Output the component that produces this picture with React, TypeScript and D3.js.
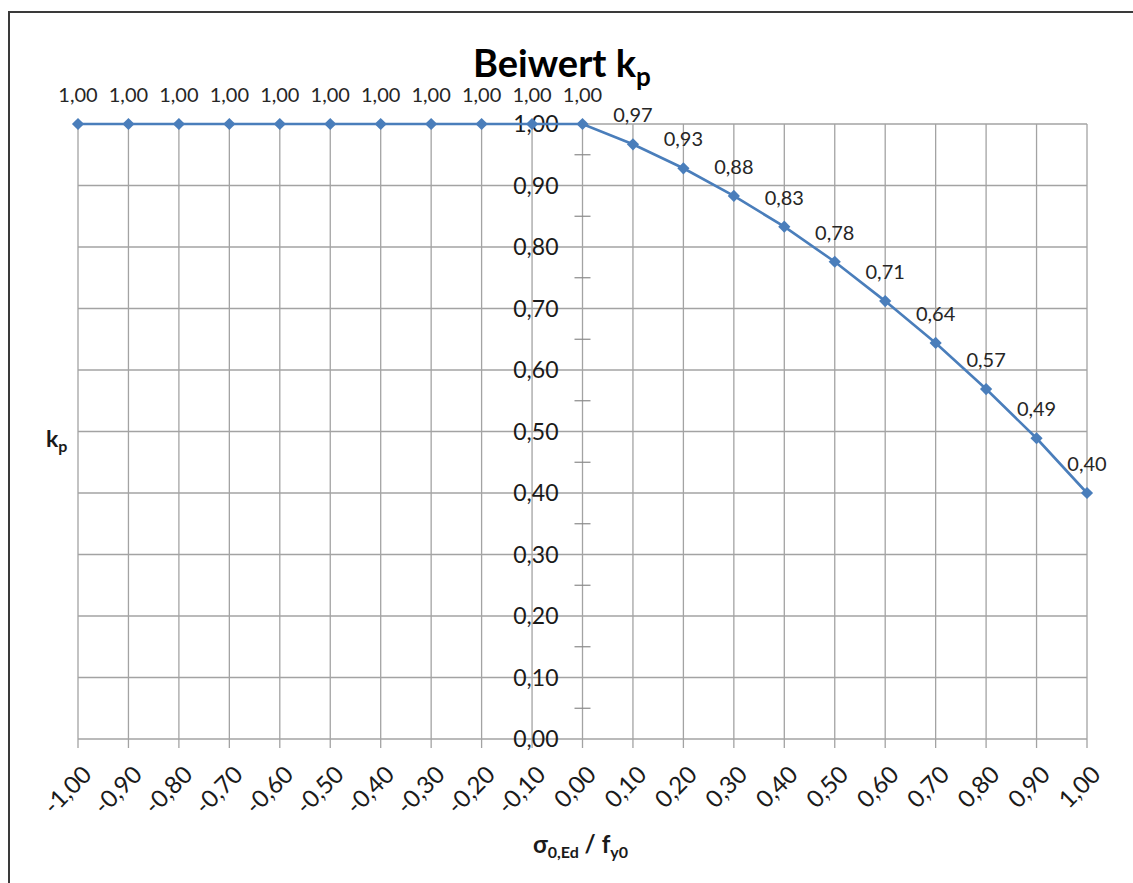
import React from "react";
import * as d3 from "d3";

const xValues = [-1.0, -0.9, -0.8, -0.7, -0.6, -0.5, -0.4, -0.3, -0.2, -0.1, 0.0, 0.1, 0.2, 0.3, 0.4, 0.5, 0.6, 0.7, 0.8, 0.9, 1.0];
const kpValues = [1, 1, 1, 1, 1, 1, 1, 1, 1, 1, 1, 0.967, 0.928, 0.883, 0.833, 0.776, 0.712, 0.644, 0.569, 0.489, 0.4];
const yTicks = [0, 0.1, 0.2, 0.3, 0.4, 0.5, 0.6, 0.7, 0.8, 0.9, 1.0];
const yMinorTicks = [0.05, 0.15, 0.25, 0.35, 0.45, 0.55, 0.65, 0.75, 0.85, 0.95];

const W = 1133;
const H = 883;
const FONT = "Lato, 'Open Sans', sans-serif";
const BLUE = "#4A7EBB";
const GRID = "#a3a3a3";

const fmt = (v: number) => v.toFixed(2).replace(".", ",");

export default function App() {
  const x = d3.scaleLinear().domain([-1, 1]).range([78, 1087]);
  const y = d3.scaleLinear().domain([0, 1]).range([739, 124]);
  const pts = xValues.map((xv, i) => ({ x: xv, y: kpValues[i] }));
  const line = d3
    .line<{ x: number; y: number }>()
    .x((d) => x(d.x))
    .y((d) => y(d.y))
    .curve(d3.curveLinear);
  const x0 = x(0);

  return (
    <svg width={W} height={H} style={{ position: "absolute", left: 0, top: 0, background: "#fff" }}>
      <rect x={9} y={12} width={W + 20} height={H + 20} fill="#fff" stroke="#3a3a3a" strokeWidth={2} />
      {/* gridlines */}
      {xValues.map((v) => (
        <line key={"gx" + v} x1={x(v)} x2={x(v)} y1={y(1)} y2={y(0) + 9} stroke={GRID} strokeWidth={1.3} />
      ))}
      {yTicks.map((v) => (
        <line key={"gy" + v} x1={x(-1)} x2={x(1)} y1={y(v)} y2={y(v)} stroke={GRID} strokeWidth={1.3} />
      ))}
      {yMinorTicks.map((v) => (
        <line key={"mt" + v} x1={x0 - 8} x2={x0 + 8} y1={y(v)} y2={y(v)} stroke="#8a8a8a" strokeWidth={1.2} />
      ))}
      {/* y tick labels */}
      {yTicks.map((v) => (
        <text key={"yl" + v} x={x0 - 24} y={y(v)} dy="0.36em" textAnchor="end" fontFamily={FONT} fontSize={23} fill="#1a1a1a">
          {fmt(v)}
        </text>
      ))}
      {/* x tick labels */}
      {xValues.map((v) => (
        <text
          key={"xl" + v}
          transform={`translate(${x(v) + 9},${770}) rotate(-45)`}
          textAnchor="end"
          dy="0.36em"
          fontFamily={FONT}
          fontSize={24}
          fill="#1a1a1a"
        >
          {fmt(v)}
        </text>
      ))}
      {/* series */}
      <path d={line(pts) || ""} fill="none" stroke={BLUE} strokeWidth={2.6} />
      {pts.map((p, i) => (
        <path
          key={"m" + i}
          d={d3.symbol().type(d3.symbolDiamond2).size(95)() || ""}
          transform={`translate(${x(p.x)},${y(p.y)})`}
          fill={BLUE}
        />
      ))}
      {pts.map((p, i) => (
        <text key={"dl" + i} x={x(p.x)} y={y(p.y) - 22} textAnchor="middle" fontFamily={FONT} fontSize={20} fill="#262626">
          {fmt(p.y)}
        </text>
      ))}
      {/* titles */}
      <text x={473} y={77} fontFamily={FONT} fontWeight="bold" fontSize={38} fill="#000">
        Beiwert k<tspan fontSize={26} dy={9}>p</tspan>
      </text>
      <text x={46} y={447} fontFamily={FONT} fontWeight="bold" fontSize={23} fill="#1a1a1a">
        k<tspan fontSize={16} dy={5}>p</tspan>
      </text>
      <text x={533} y={853} fontFamily={FONT} fontWeight="bold" fontSize={24} fill="#1a1a1a">
        σ<tspan fontSize={16} dy={5}>0,Ed</tspan>
        <tspan dy={-5}> / f</tspan>
        <tspan fontSize={16} dy={5}>y0</tspan>
      </text>
    </svg>
  );
}
